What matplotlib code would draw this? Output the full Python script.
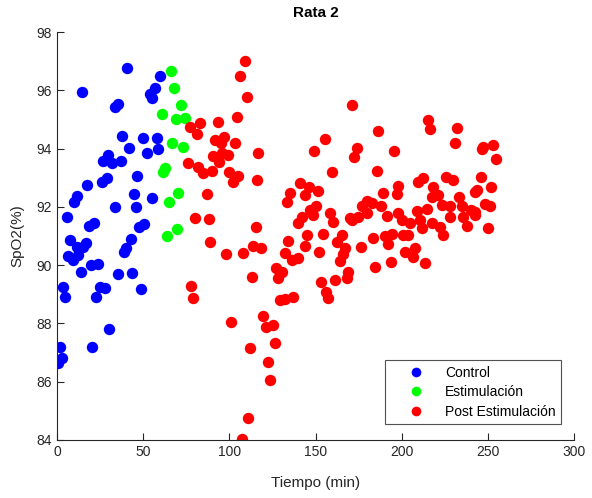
import matplotlib
matplotlib.use("Agg")
import matplotlib.pyplot as plt

plt.rcParams["font.family"] = ["Liberation Sans", "DejaVu Sans"]

# time (min) and SpO2 (%) per phase
control_t = [40.6, 14.5, 59.8, 56.9, 54.0, 55.1, 33.7, 35.4, 37.7, 41.8,
             49.9, 58.0, 58.6, 52.2, 29.6, 26.7, 31.9, 37.1, 46.4, 29.0,
             26.1, 17.4, 44.7, 55.1, 11.6, 9.9, 33.7, 45.8, 5.8, 21.5,
             18.6, 50.5, 47.6, 7.5, 16.8, 11.6, 15.1, 42.9, 40.0, 38.9,
             6.4, 9.3, 12.2, 19.7, 23.8, 13.9, 35.4, 43.5, 3.5, 25.0,
             27.9, 48.7, 4.6, 22.6, 30.2, 1.7, 20.3, 2.9, 0.3]
control_spo2 = [96.76, 95.94, 96.49, 96.08, 95.87, 95.73, 95.43, 95.53, 94.43, 94.02,
                94.36, 94.36, 93.98, 93.85, 93.78, 93.57, 93.50, 93.57, 93.06, 92.99,
                92.85, 92.75, 92.44, 92.30, 92.37, 92.17, 92.00, 92.00, 91.65, 91.44,
                91.34, 91.41, 91.31, 90.86, 90.76, 90.62, 90.62, 90.90, 90.59, 90.45,
                90.31, 90.17, 90.35, 90.00, 90.04, 89.76, 89.69, 89.73, 89.25, 89.25,
                89.21, 89.18, 88.91, 88.91, 87.81, 87.19, 87.19, 86.81, 86.64]

estim_t = [66.2, 67.9, 60.9, 72.0, 69.1, 74.3, 66.7, 73.1, 61.5, 62.7,
           65.0, 70.2, 63.8, 69.6]
estim_spo2 = [96.66, 96.08, 95.19, 95.49, 95.01, 95.05, 94.19, 94.05, 93.20, 93.33,
              92.17, 92.47, 91.00, 91.24]

post_t = [109.1, 106.2, 110.3, 104.5, 93.4, 83.0, 77.2, 81.2, 91.7, 96.9,
          95.2, 103.3, 90.5, 95.7, 99.2, 94.0, 116.6, 76.0, 81.8, 84.7,
          89.9, 99.8, 105.0, 116.1, 102.1, 87.0, 80.1, 88.2, 115.5, 88.8,
          98.1, 107.9, 113.7, 118.4, 113.2, 77.8, 78.9, 101.0, 119.5, 121.3,
          125.3, 126.5, 112.0, 122.4, 123.6, 110.8, 107.4, 129.4, 132.3, 136.9,
          141.0, 135.2, 133.5, 143.9, 142.2, 139.9, 145.1, 134.1, 143.9, 132.3,
          136.4, 139.9, 127.1, 130.6, 128.2, 171.2, 186.3, 215.3, 216.5, 155.5,
          149.1, 174.1, 172.3, 195.6, 159.6, 185.7, 146.2, 151.5, 212.4, 209.5,
          197.9, 197.3, 189.2, 218.2, 217.6, 179.9, 182.8, 188.0, 177.0, 150.3,
          146.8, 158.4, 208.9, 214.7, 197.9, 191.5, 174.7, 170.0, 179.9, 148.6,
          160.2, 171.2, 200.2, 204.8, 211.8, 210.6, 217.6, 154.4, 165.4, 162.5,
          152.0, 167.1, 166.0, 164.2, 176.4, 183.4, 190.3, 194.4, 192.1, 200.8,
          203.7, 201.9, 207.7, 206.6, 184.5, 193.8, 213.6, 168.9, 168.3, 161.3,
          153.2, 156.1, 157.3, 232.1, 231.0, 247.2, 253.0, 246.6, 254.8, 225.7,
          229.8, 246.0, 251.9, 243.7, 242.6, 221.1, 233.3, 223.4, 228.1, 235.0,
          248.4, 251.3, 240.2, 242.6, 228.1, 235.6, 222.3, 224.0, 237.9, 242.6,
          250.1]
post_spo2 = [97.00, 96.49, 95.77, 95.08, 94.91, 94.88, 94.74, 94.50, 94.29, 94.40,
             94.19, 94.19, 93.74, 93.85, 93.78, 93.54, 93.85, 93.50, 93.37, 93.16,
             93.23, 93.20, 93.06, 92.92, 92.85, 92.44, 91.62, 91.58, 91.31, 90.79,
             90.38, 90.42, 90.66, 90.59, 89.59, 89.28, 88.87, 88.05, 88.25, 87.88,
             87.94, 87.33, 87.16, 86.67, 86.06, 84.75, 84.03, 88.80, 88.84, 88.91,
             92.82, 92.47, 92.17, 92.41, 91.65, 91.44, 91.03, 90.83, 90.66, 90.42,
             90.17, 90.24, 89.90, 89.76, 89.56, 95.49, 94.60, 94.98, 94.67, 94.33,
             93.92, 94.02, 93.71, 93.92, 93.20, 93.23, 92.68, 92.54, 92.99, 92.85,
             92.71, 92.44, 92.47, 92.68, 92.34, 92.20, 92.13, 92.03, 92.03, 92.03,
             91.89, 91.79, 91.86, 91.93, 91.79, 91.69, 91.65, 91.62, 91.79, 91.72,
             91.48, 91.55, 91.55, 91.44, 91.27, 91.55, 91.44, 91.07, 91.03, 90.79,
             90.45, 90.59, 90.38, 90.14, 90.62, 90.93, 91.00, 91.07, 90.72, 91.03,
             91.03, 90.45, 90.59, 90.28, 89.93, 90.11, 90.07, 89.76, 89.56, 89.49,
             89.42, 89.08, 88.87, 94.71, 94.19, 94.05, 94.12, 93.98, 93.64, 93.02,
             92.92, 93.02, 92.68, 92.58, 92.51, 92.41, 92.34, 92.06, 92.03, 92.03,
             92.10, 92.03, 91.89, 91.82, 91.65, 91.65, 91.31, 91.03, 91.34, 91.72,
             91.27]

fig = plt.figure(figsize=(5.92, 4.98), dpi=100)
ax = fig.add_axes([0.0963, 0.1165, 0.8733, 0.8192])

ms = 8.2
ax.plot(control_t, control_spo2, "o", color="#0000ff", ms=ms, mec="none", label="Control")
ax.plot(estim_t, estim_spo2, "o", color="#00ff00", ms=ms, mec="none", label="Estimulación")
ax.plot(post_t, post_spo2, "o", color="#ff0000", ms=ms, mec="none", label="Post Estimulación")

ax.set_xlim(0, 300)
ax.set_ylim(84, 98)
ax.set_xticks(range(0, 301, 50))
ax.set_yticks(range(84, 99, 2))
for s in ("top", "right"):
    ax.spines[s].set_visible(False)
for s in ("left", "bottom"):
    ax.spines[s].set_color("#262626")
    ax.spines[s].set_linewidth(0.8)
ax.tick_params(direction="in", length=5, width=0.8, colors="#262626",
               labelsize=10, labelcolor="#262626")

ax.set_xlabel("Tiempo (min)", fontsize=11, color="#262626", labelpad=12)
ax.set_ylabel("SpO2(%)", fontsize=11, color="#262626", labelpad=9)
ax.set_title("Rata 2", fontsize=11, fontweight="bold", color="#000000", pad=11)

# legend box pinned to the lower-right corner of the axes
leg = ax.legend(loc="lower right", bbox_to_anchor=(0.975, 0.039), borderaxespad=0,
                fontsize=10, frameon=True, fancybox=False, edgecolor="#262626",
                handletextpad=0.3, borderpad=0.4, labelspacing=0.38,
                handlelength=3.6, markerscale=0.85)
leg.get_frame().set_linewidth(0.8)

fig.savefig("out.png", dpi=100)
